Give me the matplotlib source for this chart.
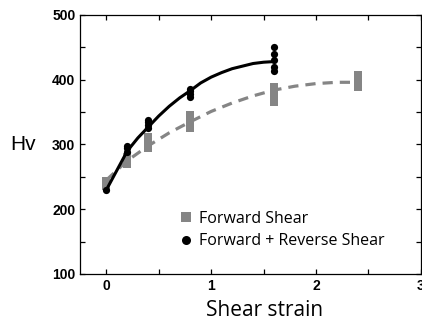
import numpy as np
import matplotlib.pyplot as plt

# measured hardness (Hv) vs shear strain
fwd_strain = [0, 0, 0.2, 0.2, 0.2, 0.4, 0.4, 0.4, 0.4, 0.8, 0.8, 0.8, 0.8,
              1.6, 1.6, 1.6, 1.6, 2.4, 2.4, 2.4, 2.4]
fwd_hv = [236, 243, 270, 275, 280, 294, 300, 306, 311, 325, 332, 338, 345,
          366, 373, 380, 388, 388, 395, 402, 408]

rev_strain = [0, 0.2, 0.2, 0.2, 0.4, 0.4, 0.4, 0.4, 0.8, 0.8, 0.8, 0.8,
              1.6, 1.6, 1.6, 1.6, 1.6]
rev_hv = [229, 289, 294, 298, 325, 330, 335, 338, 374, 378, 383, 386,
          413, 420, 430, 440, 451]

# trend curves
fwd_fit_x = [0, 0.2, 0.4, 0.6, 0.8, 1.0, 1.2, 1.4, 1.6, 1.8, 2.0, 2.2, 2.4]
fwd_fit_y = [245, 275, 298, 318, 335, 351, 364, 375, 384, 390, 394, 396, 396]
rev_fit_x = [0, 0.2, 0.3, 0.4, 0.5, 0.6, 0.7, 0.8, 0.9, 1.0, 1.1, 1.2, 1.3,
             1.4, 1.5, 1.6]
rev_fit_y = [230, 290, 310, 327, 344, 359, 372, 383, 395, 404, 411, 417,
             421, 425, 427, 428]

gray = '#858585'

fig = plt.figure(figsize=(4.22, 3.25), dpi=100)
ax = fig.add_axes([0.19, 0.157, 0.807, 0.797])

ax.plot(fwd_fit_x, fwd_fit_y, color=gray, lw=2.3, dashes=(3.2, 2.2), zorder=2)
ax.plot(rev_fit_x, rev_fit_y, color='black', lw=2.2, zorder=3)
ax.plot(fwd_strain, fwd_hv, 's', color=gray, ms=5.8, mew=0, zorder=2,
        label='Forward Shear')
ax.plot(rev_strain, rev_hv, 'o', color='black', ms=5.2, mew=0, zorder=4,
        label='Forward + Reverse Shear')

ax.set_xlim(-0.25, 3)
ax.set_ylim(100, 500)
ax.set_xticks([0, 1, 2, 3])
ax.set_xticks([0.5, 1.5, 2.5], minor=True)
ax.set_yticks([100, 200, 300, 400, 500])
ax.set_yticks([150, 250, 350, 450], minor=True)
ax.tick_params(which='both', direction='in', length=3.5, width=0.9,
               top=True, right=True)
for lab in ax.get_xticklabels() + ax.get_yticklabels():
    lab.set_fontfamily('Liberation Sans')
    lab.set_fontweight('bold')
    lab.set_fontsize(10)
for s in ax.spines.values():
    s.set_linewidth(0.9)

ax.set_xlabel('Shear strain', fontsize=15, family='Open Sans')
ax.xaxis.set_label_coords(0.54, -0.1)
ax.set_ylabel('Hv', fontsize=15, family='Liberation Sans', rotation=0,
              va='center', ha='center')
ax.yaxis.set_label_coords(-0.167, 0.5)

leg = ax.legend(loc='upper left', bbox_to_anchor=(0.27, 0.275), frameon=False,
                handlelength=0.7, handletextpad=0.5, labelspacing=0.4,
                prop={'family': 'Open Sans', 'size': 11.5}, borderpad=0)
for h in leg.legend_handles:
    h.set_markersize(6.5)

fig.savefig('out.png', dpi=100)
